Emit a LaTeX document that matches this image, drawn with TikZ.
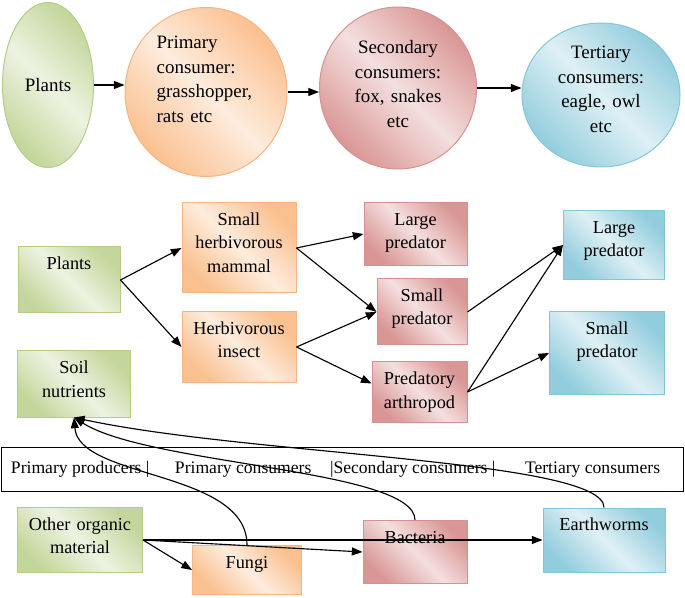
\documentclass[tikz,border=0pt]{standalone}
\usepackage{fontspec}
\setmainfont{Liberation Serif}
\usetikzlibrary{shapes.geometric, arrows.meta, calc}
\definecolor{greenfill}{RGB}{195, 214, 155}
\definecolor{greenline}{RGB}{180, 204, 134}
\definecolor{orangefill}{RGB}{250, 192, 143}
\definecolor{orangeline}{RGB}{247, 180, 134}
\definecolor{redfill}{RGB}{217, 150, 148}
\definecolor{redline}{RGB}{214, 146, 144}
\definecolor{bluefill}{RGB}{147, 205, 221}
\definecolor{blueline}{RGB}{130, 198, 216}
\newcommand{\topfont}{\fontsize{14.2pt}{18.5pt}\selectfont}
\newcommand{\boxfont}{\fontsize{13.7pt}{17.5pt}\selectfont}
\newcommand{\stripfont}{\fontsize{13.2pt}{15pt}\selectfont}
\tikzset{
  boxdim/.code 2 args={%
    \pgfmathsetlengthmacro\boxw{#1*0.75pt}%
    \pgfmathsetlengthmacro\boxh{#2*0.75pt}%
    \pgfmathsetlengthmacro\boxtw{#1*0.75pt-4pt}%
    \pgfmathsetlengthmacro\boxd{#2*0.75pt-17pt}%
    \pgfkeysalso{minimum width=\boxw, minimum height=\boxh, text width=\boxtw, text depth=\boxd}},
}
\begin{document}
\begin{tikzpicture}[x=0.75pt, y=-0.75pt,
  ell/.style={ellipse, draw=#1line, top color=#1fill, bottom color=#1fill, middle color=#1fill!30, shading angle=-45, line width=0.75pt, inner sep=0pt, font=\topfont},
  box/.style={rectangle, draw=#1line, top color=#1fill, bottom color=#1fill, middle color=#1fill!30, shading angle=-45, line width=0.75pt, inner xsep=2pt, inner ysep=0pt, align=center, text height=17pt, font=\boxfont},
  arr/.style={-{Triangle[length=8pt, width=6pt]}, line width=0.85pt}
]
  \useasboundingbox (0,0) rectangle (685,598);

  % Simple chain
  \node[ell=green, minimum width=68.25pt, minimum height=123.75pt] (plantsE) at (48,85) {Plants};
  \node[ell=orange, minimum width=121.5pt, minimum height=126.75pt, text width=74pt, align=left, text height=0.5pt, text depth=65.7pt] (primE) at (206,92) {Primary\\consumer:\\grasshopper,\\rats etc};
  \node[ell=red, minimum width=117.75pt, minimum height=121.5pt, text width=78pt, align=center, text height=0.5pt, text depth=52.3pt] (secE) at (398,88) {Secondary\\consumers:\\fox, snakes\\etc};
  \node[ell=blue, minimum width=118.5pt, minimum height=108pt, text width=72pt, align=center, text height=0.5pt, text depth=55.3pt] (terE) at (601,95) {Tertiary\\consumers:\\eagle, owl\\etc};

  % Food web
  \node[box=green, boxdim={102}{66}] (plantsB) at (69,280) {Plants};
  \node[box=green, boxdim={113}{66}] (soil) at (74,384) {Soil\\nutrients};
  \node[box=orange, boxdim={114}{90}] (mammal) at (239,248) {Small\\herbivorous\\mammal};
  \node[box=orange, boxdim={114}{70}] (insect) at (239,347) {Herbivorous\\insect};
  \node[box=red, boxdim={103}{63}] (largeR) at (415.5,234) {Large\\predator};
  \node[box=red, boxdim={90}{66}] (smallR) at (422,312) {Small\\predator};
  \node[box=red, boxdim={95}{60}] (arthR) at (419.5,392) {Predatory\\arthropod};
  \node[box=blue, boxdim={101}{69}] (largeB) at (614,245) {Large\\predator};
  \node[box=blue, boxdim={115}{82}] (smallB) at (607,353) {Small\\predator};

  % Trophic levels
  \node[draw, line width=0.75pt, minimum width=511.5pt, minimum height=33pt, inner sep=0pt, font=\stripfont] (strip) at (342,469) {\hspace*{7.5pt}\makebox[123pt][l]{Primary producers |}\makebox[116.25pt][l]{Primary consumers}\makebox[146.25pt][l]{|Secondary consumers |}\makebox[118.5pt][l]{Tertiary consumers}};

  % Decomposers
  \node[box=green, boxdim={125}{65}] (other) at (80,540) {Other organic\\material};
  \node[box=orange, boxdim={109}{49}] (fungi) at (247,570) {Fungi};
  \node[box=red, boxdim={104}{63}] (bact) at (415,552) {Bacteria};
  \node[box=blue, boxdim={122}{64}] (worms) at (604,540) {Earthworms};

  \draw[arr] (plantsE.east) -- (plantsE.east -| primE.west);
  \draw[arr] (primE.east) -- (primE.east -| secE.west);
  \draw[arr] (secE.east) -- (secE.east -| terE.west);

  \draw[arr] (plantsB.east) -- (mammal.west);
  \draw[arr] (plantsB.east) -- (insect.west);
  \draw[arr] (mammal.east) -- (largeR.west);
  \draw[arr] (mammal.east) -- (smallR.west);
  \draw[arr] (insect.east) -- (smallR.west);
  \draw[arr] (insect.east) -- (arthR.170);
  \draw[arr] (smallR.east) -- (largeB.west);
  \draw[arr] (arthR.east) -- (largeB.west);
  \draw[arr] (arthR.east) -- (smallB.west);

  \draw[arr] (other.east) -- (fungi.west);
  \draw[arr] (other.east) -- (bact.west);
  \draw[arr] (other.east) -- (worms.west);
  \draw[arr] (fungi.north) .. controls +(0,-75) and +(5,62) .. (soil.south);
  \draw[arr] (bact.north) .. controls +(0,-51) and +(76,48) .. (soil.south);
  \draw[arr] (worms.north) .. controls +(0,-48) and +(176,38) .. (soil.south);
\end{tikzpicture}
\end{document}
